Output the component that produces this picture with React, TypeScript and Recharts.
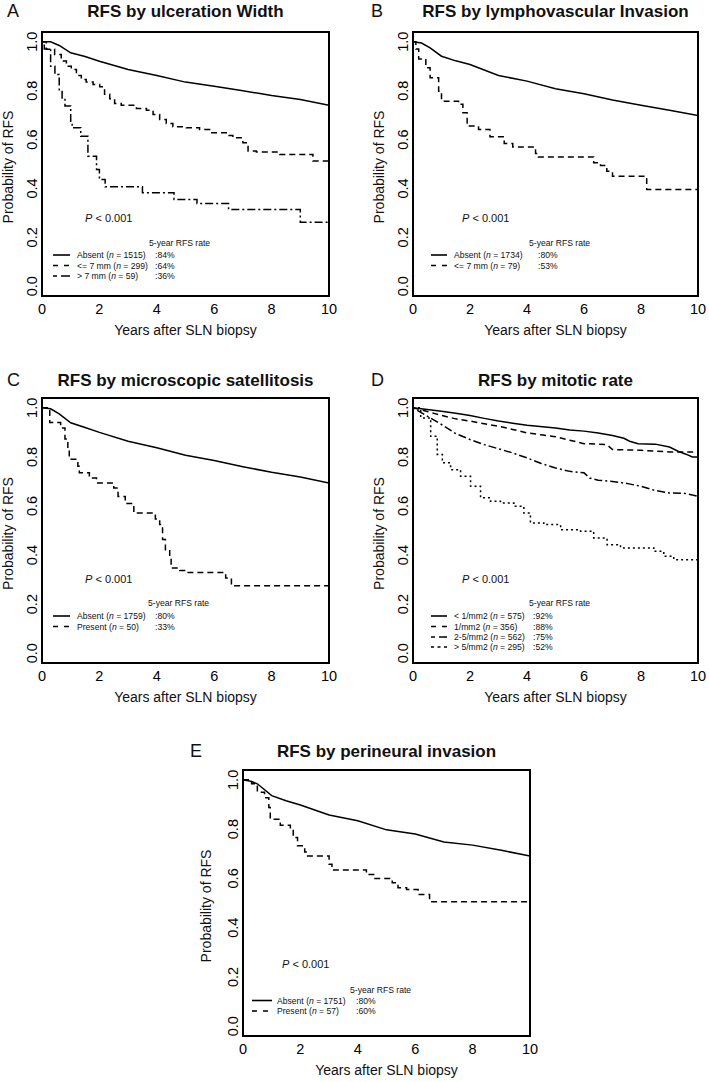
import React from 'react';
import { LineChart, Line, XAxis, YAxis, ReferenceArea } from 'recharts';

const FONT = '"Liberation Sans", Arial, Helvetica, sans-serif';
const X_TICKS = [0, 2, 4, 6, 8, 10];
const Y_TICKS = [0, 0.2, 0.4, 0.6, 0.8, 1.0];
const X_TITLE = 'Years after SLN biopsy';
const Y_TITLE = 'Probability of RFS';
const P_TEXT = ' < 0.001';
const LEGEND_HEADER = '5-year RFS rate';

// Panel A: ulceration width  [years, survival]
const ulcAbsent = [[0, 1], [0.3, 1], [0.6, 0.985], [1, 0.955], [1.5, 0.94], [2, 0.92], [3, 0.887], [4, 0.862], [5, 0.835], [6, 0.818], [7, 0.8], [8, 0.78], [9, 0.764], [10, 0.74]];
const ulcLe7 = [[0, 1], [0.15, 0.969], [0.44, 0.948], [0.67, 0.921], [0.85, 0.9], [1.02, 0.887], [1.2, 0.862], [1.37, 0.846], [1.54, 0.835], [1.78, 0.825], [2.01, 0.816], [2.18, 0.785], [2.36, 0.767], [2.53, 0.748], [2.76, 0.74], [3.29, 0.727], [3.64, 0.72], [3.87, 0.703], [4.1, 0.682], [4.33, 0.666], [4.56, 0.652], [5.03, 0.648], [5.49, 0.641], [5.84, 0.628], [6.42, 0.617], [6.65, 0.607], [7.0, 0.587], [7.18, 0.553], [7.47, 0.549], [8.28, 0.539], [9.44, 0.512], [10, 0.512]];
const ulcGt7 = [[0, 1], [0.08, 0.97], [0.3, 0.9], [0.45, 0.866], [0.6, 0.8], [0.7, 0.77], [0.8, 0.737], [1.0, 0.668], [1.05, 0.648], [1.35, 0.614], [1.6, 0.532], [1.9, 0.477], [2.0, 0.437], [2.2, 0.407], [3.5, 0.382], [4.6, 0.355], [5.4, 0.338], [6.5, 0.314], [9.0, 0.262], [10, 0.262]];

// Panel B: lymphovascular invasion
const lviAbsent = [[0, 1], [0.3, 0.995], [0.6, 0.975], [1, 0.941], [1.5, 0.922], [2, 0.907], [3, 0.862], [4, 0.839], [5, 0.808], [6, 0.787], [7, 0.762], [8, 0.74], [9, 0.72], [10, 0.698]];
const lviPresent = [[0, 1], [0.1, 0.97], [0.2, 0.93], [0.45, 0.894], [0.6, 0.853], [0.9, 0.798], [1.0, 0.757], [1.6, 0.744], [1.75, 0.71], [1.9, 0.655], [2.3, 0.641], [2.7, 0.611], [3.2, 0.584], [3.5, 0.57], [4.3, 0.543], [4.4, 0.529], [6.34, 0.505], [6.58, 0.494], [6.8, 0.47], [7.0, 0.45], [8.2, 0.396], [10, 0.396]];

// Panel C: microscopic satellitosis
const satAbsent = [[0, 1], [0.3, 0.996], [0.6, 0.975], [1, 0.939], [1.5, 0.92], [2, 0.9], [3, 0.864], [4, 0.837], [5, 0.807], [6, 0.785], [7, 0.76], [8, 0.737], [9, 0.718], [10, 0.694]];
const satPresent = [[0, 1], [0.27, 0.94], [0.65, 0.918], [0.8, 0.873], [0.9, 0.83], [0.95, 0.79], [1.25, 0.762], [1.3, 0.735], [1.65, 0.714], [1.9, 0.694], [2.5, 0.673], [2.65, 0.639], [2.9, 0.61], [3.2, 0.571], [3.95, 0.547], [4.1, 0.524], [4.2, 0.463], [4.3, 0.422], [4.45, 0.388], [4.5, 0.347], [4.8, 0.337], [5.0, 0.329], [6.4, 0.306], [6.6, 0.275], [10, 0.275]];

// Panel D: mitotic rate
const mitLt1 = [[0, 1], [0.5, 0.993], [1, 0.986], [1.5, 0.978], [2, 0.969], [2.5, 0.957], [3, 0.946], [3.5, 0.937], [4, 0.929], [5, 0.918], [5.5, 0.91], [6, 0.905], [6.5, 0.897], [7, 0.887], [7.4, 0.876], [7.6, 0.864], [7.9, 0.854], [8.5, 0.852], [9, 0.84], [9.3, 0.823], [9.6, 0.81], [9.8, 0.8], [10, 0.8]];
const mitEq1 = [[0, 1], [0.5, 0.985], [1, 0.969], [1.5, 0.955], [2, 0.946], [2.5, 0.935], [3, 0.925], [3.5, 0.912], [4, 0.898], [4.5, 0.89], [5, 0.882], [5.5, 0.868], [6, 0.854], [6.8, 0.85], [7.0, 0.83], [8, 0.827], [9, 0.82], [9.8, 0.82], [10, 0.822]];
const mit2to5 = [[0, 1], [0.5, 0.966], [1, 0.932], [1.5, 0.895], [2, 0.871], [2.5, 0.85], [3, 0.833], [3.5, 0.816], [4, 0.796], [4.5, 0.773], [5, 0.755], [5.5, 0.741], [6, 0.735], [6.2, 0.714], [6.5, 0.705], [7, 0.7], [7.5, 0.692], [8, 0.68], [8.5, 0.663], [9, 0.653], [9.5, 0.652], [9.8, 0.645], [10, 0.639]];
const mitGt5 = [[0, 1], [0.27, 0.959], [0.62, 0.884], [0.85, 0.81], [1.03, 0.776], [1.32, 0.748], [1.67, 0.721], [2.02, 0.68], [2.37, 0.633], [2.72, 0.619], [3.07, 0.612], [3.54, 0.599], [3.89, 0.571], [4.12, 0.531], [4.59, 0.524], [5.18, 0.503], [5.88, 0.497], [6.34, 0.469], [6.81, 0.442], [7.28, 0.429], [8.21, 0.429], [8.45, 0.415], [8.8, 0.395], [9.15, 0.381], [10, 0.378]];

// Panel E: perineural invasion
const pniAbsent = [[0, 1], [0.3, 0.993], [0.5, 0.984], [1, 0.936], [1.5, 0.915], [2, 0.898], [3, 0.857], [4, 0.834], [5, 0.797], [6, 0.78], [7, 0.748], [8, 0.735], [9, 0.714], [10, 0.691]];
const pniPresent = [[0, 1], [0.3, 0.984], [0.5, 0.95], [0.75, 0.927], [0.9, 0.888], [0.95, 0.84], [1.3, 0.816], [1.65, 0.8], [1.75, 0.766], [1.9, 0.732], [2.15, 0.707], [2.2, 0.691], [3.0, 0.657], [3.1, 0.634], [4.3, 0.616], [4.6, 0.599], [5.2, 0.582], [5.4, 0.562], [5.7, 0.555], [6.1, 0.535], [6.5, 0.505], [10, 0.505]];

const LINE_DASH: Record<string, string | undefined> = { solid: undefined, dash: '6 4', dashdot: '2 3 8 3', dot: '2 3' };
const KEY_DASH: Record<string, string | undefined> = { solid: undefined, dash: '5 6', dashdot: '4 4 9 4', dot: '3 3.5' };

const toRows = (pts: number[][]) => pts.map(([t, s]) => ({ t, s }));

type Item = { pts: number[][]; style: string; step: boolean; label: string; n: number; rate: string };

const panels = [
  {
    letter: 'A', title: 'RFS by ulceration Width',
    box: { x: 42, y: 32, w: 287, h: 264 }, titleDy: -15, yTitleDx: -29, lx: 7,
    p: { x: 85, y: 222 },
    leg: { hx: 149, hy: 243, rows: [255, 265.5, 276], lx1: 53, lx2: 70, tx: 77, rx: 155 },
    items: [
      { pts: ulcAbsent, style: 'solid', step: false, label: 'Absent', n: 1515, rate: '84%' },
      { pts: ulcLe7, style: 'dash', step: true, label: '<= 7 mm', n: 299, rate: '64%' },
      { pts: ulcGt7, style: 'dashdot', step: true, label: '> 7 mm', n: 59, rate: '36%' },
    ] as Item[],
  },
  {
    letter: 'B', title: 'RFS by lymphovascular Invasion',
    box: { x: 413, y: 32, w: 285, h: 264 }, titleDy: -15, yTitleDx: -29, lx: 371,
    p: { x: 462, y: 222 },
    leg: { hx: 529, hy: 243, rows: [255, 265.5], lx1: 431, lx2: 447, tx: 454, rx: 538 },
    items: [
      { pts: lviAbsent, style: 'solid', step: false, label: 'Absent', n: 1734, rate: '80%' },
      { pts: lviPresent, style: 'dash', step: true, label: '<= 7 mm', n: 79, rate: '53%' },
    ] as Item[],
  },
  {
    letter: 'C', title: 'RFS by microscopic satellitosis',
    box: { x: 42, y: 398, w: 287, h: 265 }, titleDy: -12, yTitleDx: -29, lx: 7,
    p: { x: 85, y: 583 },
    leg: { hx: 148, hy: 603, rows: [616, 626.5], lx1: 53, lx2: 70, tx: 77, rx: 155 },
    items: [
      { pts: satAbsent, style: 'solid', step: false, label: 'Absent', n: 1759, rate: '80%' },
      { pts: satPresent, style: 'dash', step: true, label: 'Present', n: 50, rate: '33%' },
    ] as Item[],
  },
  {
    letter: 'D', title: 'RFS by mitotic rate',
    box: { x: 413, y: 398, w: 285, h: 265 }, titleDy: -12, yTitleDx: -29, lx: 371,
    p: { x: 462, y: 583 },
    leg: { hx: 529, hy: 603, rows: [616, 626.5, 637, 647], lx1: 431, lx2: 447, tx: 454, rx: 533 },
    items: [
      { pts: mitLt1, style: 'solid', step: false, label: '< 1/mm2', n: 575, rate: '92%' },
      { pts: mitEq1, style: 'dash', step: false, label: '1/mm2', n: 356, rate: '88%' },
      { pts: mit2to5, style: 'dashdot', step: false, label: '2-5/mm2', n: 562, rate: '75%' },
      { pts: mitGt5, style: 'dot', step: true, label: '> 5/mm2', n: 295, rate: '52%' },
    ] as Item[],
  },
  {
    letter: 'E', title: 'RFS by perineural invasion',
    box: { x: 243, y: 770, w: 287, h: 266 }, titleDy: -13.5, yTitleDx: -32, lx: 190,
    p: { x: 282, y: 968 },
    leg: { hx: 350, hy: 990, rows: [1000.5, 1011], lx1: 252, lx2: 272, tx: 277, rx: 356 },
    items: [
      { pts: pniAbsent, style: 'solid', step: false, label: 'Absent', n: 1751, rate: '80%' },
      { pts: pniPresent, style: 'dash', step: true, label: 'Present', n: 57, rate: '60%' },
    ] as Item[],
  },
];

const TICK_FS = 14.5;
const LEG_FS = 8.6;

const YTick = (props: any) => {
  const { x, y, payload } = props;
  const bx = x + 3;
  return (
    <text x={bx} y={y} transform={`rotate(-90 ${bx} ${y})`} textAnchor="middle" fontSize={TICK_FS} fill="#000" fontFamily={FONT}>
      {Number(payload.value).toFixed(1)}
    </text>
  );
};

const Panel = ({ cfg }: { cfg: typeof panels[number] }) => {
  const { box, leg } = cfg;
  const ox = box.x - 42;
  const oy = box.y - 32;
  const W = box.w + 52;
  const H = box.h + 78;
  const txt = { fontFamily: FONT, fill: '#111' };
  return (
    <div style={{ position: 'absolute', left: ox, top: oy, width: W, height: H }}>
      <LineChart width={W} height={H} margin={{ top: 32, right: 10, bottom: 2, left: 0 }}>
        <XAxis type="number" dataKey="t" domain={[0, 10]} ticks={X_TICKS} interval={0} allowDataOverflow
          axisLine={false} tickLine={false} height={44}
          tick={{ fontSize: TICK_FS, fill: '#000', fontFamily: FONT }} />
        <YAxis type="number" domain={[-0.04, 1.04]} ticks={Y_TICKS} interval={0} allowDataOverflow
          axisLine={false} tickLine={false} width={42} tick={<YTick />} />
        {cfg.items.map((it, i) => (
          <Line key={i} data={toRows(it.pts)} dataKey="s" type={it.step ? 'stepAfter' : 'linear'}
            stroke="#000" strokeWidth={1.5} strokeDasharray={LINE_DASH[it.style]}
            dot={false} activeDot={false} isAnimationActive={false} />
        ))}
        <ReferenceArea x1={0} x2={10} y1={-0.04} y2={1.04} fill="none" fillOpacity={0} stroke="#000" strokeWidth={2} />
      </LineChart>
      <svg width={W} height={H} style={{ position: 'absolute', left: 0, top: 0, overflow: 'visible', pointerEvents: 'none' }}>
        <g transform={`translate(${-ox},${-oy})`}>
          <text x={cfg.lx} y={box.y + cfg.titleDy} fontSize={18} {...txt}>{cfg.letter}</text>
          <text x={box.x + box.w / 2} y={box.y + cfg.titleDy} fontSize={17} fontWeight="bold" textAnchor="middle" {...txt}>{cfg.title}</text>
          <text x={box.x + box.w / 2} y={box.y + box.h + 39} fontSize={14} textAnchor="middle" {...txt}>{X_TITLE}</text>
          <text transform={`translate(${box.x + cfg.yTitleDx},${box.y + box.h / 2 + 3}) rotate(-90)`} fontSize={14} textAnchor="middle" {...txt}>{Y_TITLE}</text>
          <text x={cfg.p.x} y={cfg.p.y} fontSize={11} {...txt}><tspan fontStyle="italic">P</tspan>{P_TEXT}</text>
          <text x={leg.hx} y={leg.hy} fontSize={LEG_FS} dominantBaseline="central" {...txt}>{LEGEND_HEADER}</text>
          {cfg.items.map((it, i) => (
            <g key={i}>
              <line x1={leg.lx1} x2={leg.lx2} y1={leg.rows[i]} y2={leg.rows[i]} stroke="#000" strokeWidth={1.6} strokeDasharray={KEY_DASH[it.style]} />
              <text x={leg.tx} y={leg.rows[i]} fontSize={LEG_FS} dominantBaseline="central" {...txt}>
                {it.label} (<tspan fontStyle="italic">n</tspan> = {it.n})
              </text>
              <text x={leg.rx} y={leg.rows[i]} fontSize={LEG_FS} dominantBaseline="central" {...txt}>:{it.rate}</text>
            </g>
          ))}
        </g>
      </svg>
    </div>
  );
};

export default function App() {
  return (
    <div style={{ position: 'absolute', left: 0, top: 0, width: 709, height: 1082, overflow: 'hidden', background: '#fff' }}>
      {panels.map((p) => <Panel key={p.letter} cfg={p} />)}
    </div>
  );
}
